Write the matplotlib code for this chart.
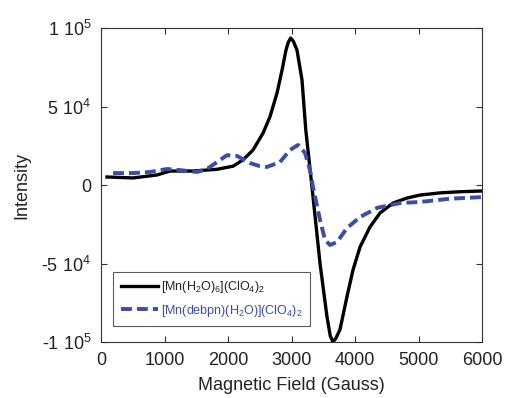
import matplotlib.pyplot as plt
from matplotlib.ticker import FixedLocator

plt.rcParams['font.family'] = ['Liberation Sans', 'DejaVu Sans']
plt.rcParams['mathtext.fontset'] = 'custom'
plt.rcParams['mathtext.rm'] = 'Liberation Sans'

# [Mn(H2O)6](ClO4)2 -- solid black
field_a = [94, 173, 504, 882, 1087, 1449, 1827, 2080, 2236, 2394, 2551, 2661, 2772, 2850,
           2913, 2950, 2987, 3030, 3086, 3165, 3225, 3339, 3449, 3559, 3610, 3654, 3700,
           3764, 3874, 3969, 4079, 4236, 4394, 4598, 4819, 5024, 5340, 5650, 6000]
int_a = [5100, 5000, 4500, 6400, 8900, 8900, 10000, 12000, 16000, 22300, 33000, 43500, 58600,
         73000, 86000, 91000, 93600, 91500, 86000, 67000, 35000, -7600, -50000, -84000, -96000,
         -100000, -97500, -92000, -71000, -54000, -39500, -26700, -17800, -11500, -8300, -6400,
         -5000, -4300, -3800]

# [Mn(debpn)(H2O)](ClO4)2 -- dashed blue
field_b = [190, 504, 772, 1040, 1244, 1512, 1669, 1827, 1984, 2142, 2346, 2500, 2614, 2819,
           2976, 3102, 3213, 3291, 3339, 3449, 3528, 3606, 3717, 3874, 4079, 4346, 4709, 5024,
           5500, 6000]
int_b = [7600, 7600, 8300, 10200, 9500, 8300, 10200, 14600, 19000, 18500, 14000, 12000, 11500,
         14600, 22300, 25500, 20400, 9500, -1300, -22300, -35000, -38200, -36300, -27400, -20400,
         -14600, -11500, -10800, -8700, -7700]

xticks = [0, 1000, 2000, 3000, 4000, 5000, 6000]
yticks = [-1e5, -5e4, 0, 5e4, 1e5]
ytick_labels = [r'-1 10$^5$', r'-5 10$^4$', '0', r'5 10$^4$', r'1 10$^5$']

fig = plt.figure(figsize=(5.05, 3.98), dpi=100)
ax = fig.add_axes([0.2, 0.1407, 0.7545, 0.7889])

ax.plot(field_a, int_a, color='black', lw=2.4,
        label=r'[Mn(H$_2$O)$_6$](ClO$_4$)$_2$')
ax.plot(field_b, int_b, color='#3d4caa', lw=2.8, dashes=(2.8, 1.3),
        label=r'[Mn(debpn)(H$_2$O)](ClO$_4$)$_2$')

ax.set_xlim(0, 6000)
ax.set_ylim(-1e5, 1e5)
ax.xaxis.set_major_locator(FixedLocator(xticks))
ax.set_xticklabels([str(t) for t in xticks])
ax.yaxis.set_major_locator(FixedLocator(yticks))
ax.set_yticklabels(ytick_labels)
ax.tick_params(direction='in', top=True, right=True, labelsize=13, length=4, width=0.8,
               pad=7, colors='#333333', labelcolor='#222222')
for s in ax.spines.values():
    s.set_linewidth(0.8)
    s.set_color('#333333')

ax.set_xlabel('Magnetic Field (Gauss)', fontsize=13, color='#222222', labelpad=6)
ax.set_ylabel('Intensity', fontsize=13, color='#222222', labelpad=8)

leg = ax.legend(loc='lower left', fontsize=9, frameon=True, fancybox=False,
                edgecolor='#333333', handlelength=3.0, handletextpad=0.2,
                borderpad=0.6, labelspacing=0.6, borderaxespad=0,
                bbox_to_anchor=(0.032, 0.05))
leg.get_frame().set_linewidth(0.8)
leg.get_texts()[0].set_color('#222222')
leg.get_texts()[1].set_color('#3d4caa')

fig.savefig('out.png', dpi=100)
